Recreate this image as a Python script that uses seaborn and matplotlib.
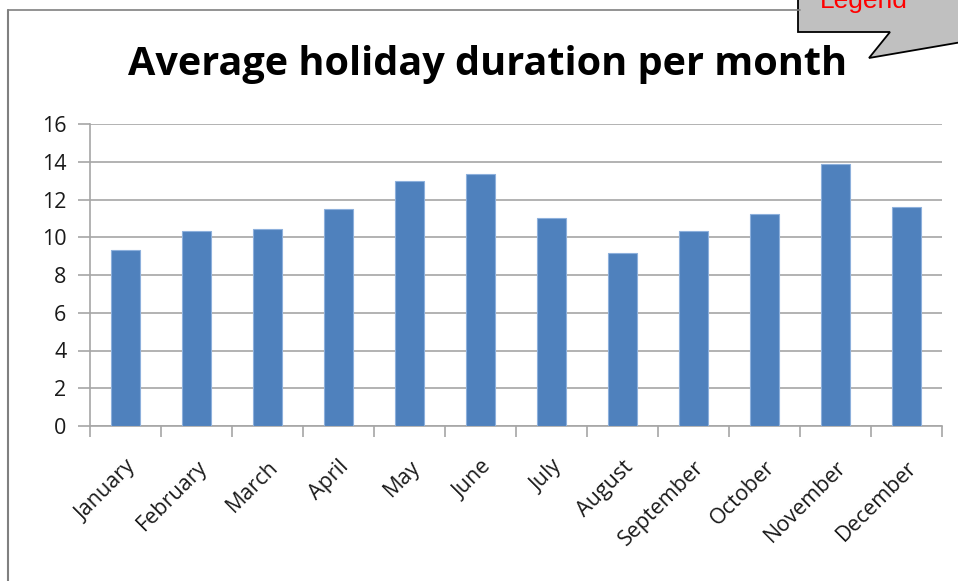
import matplotlib
matplotlib.use("Agg")
import matplotlib.pyplot as plt
import seaborn as sns
import pandas as pd
from matplotlib.patches import Polygon
from matplotlib.lines import Line2D

months = ["January", "February", "March", "April", "May", "June",
          "July", "August", "September", "October", "November", "December"]
durations = [9.3, 10.35, 10.45, 11.5, 13.0, 13.35, 11.02, 9.17, 10.35, 11.23, 13.88, 11.62]
y_ticks = [0, 2, 4, 6, 8, 10, 12, 14, 16]

df = pd.DataFrame({"month": months, "duration": durations})

sns.set_style("white")
plt.rcParams["font.family"] = ["Open Sans", "DejaVu Sans"]

W, H = 958, 581
fig = plt.figure(figsize=(W / 100, H / 100), dpi=100)
ax = fig.add_axes([90 / W, 1 - 426 / H, 852 / W, 302 / H])

sns.barplot(data=df, x="month", y="duration", color="#4F81BD", width=0.4,
            edgecolor="#8db0dc", linewidth=0.8, saturation=1, ax=ax, zorder=3)

ax.set_ylim(0, 16)
ax.set_xlim(-0.5, len(months) - 0.5)
ax.set_yticks(y_ticks)
ax.set_yticklabels([str(t) for t in y_ticks], fontsize=15.5, color="#1a1a1a")
ax.yaxis.grid(True, color="#a6a6a6", linewidth=1.2, zorder=0)
ax.set_axisbelow(True)
ax.tick_params(axis="y", length=9, width=1.2, color="#a6a6a6", pad=8, left=True)

ax.set_xticks(range(len(months)))
ax.set_xticklabels(months, rotation=45, ha="right", rotation_mode="anchor",
                   fontsize=15.5, color="#1a1a1a")
ax.set_xticks([i - 0.5 for i in range(len(months) + 1)], minor=True)
ax.tick_params(axis="x", which="major", length=0, pad=22)
ax.tick_params(axis="x", which="minor", length=8, width=1.2, color="#a6a6a6", bottom=True)
ax.set_xlabel("")
ax.set_ylabel("")

for side in ["top", "right"]:
    ax.spines[side].set_visible(False)
for side in ["left", "bottom"]:
    ax.spines[side].set_color("#a6a6a6")
    ax.spines[side].set_linewidth(1.2)

fig.text(488 / W, 1 - 64 / H, "Average holiday duration per month",
         ha="center", va="center", fontsize=28.5, fontweight="bold", color="black")

# chart frame
fig.add_artist(Line2D([8 / W, 8 / W], [0, 1 - 10 / H], color="#808080", linewidth=1.5,
                      transform=fig.transFigure))
fig.add_artist(Line2D([8 / W, 800 / W], [1 - 10 / H, 1 - 10 / H], color="#808080",
                      linewidth=1.2, transform=fig.transFigure))

# callout
pts = [(798, -5), (798, 32), (890, 32), (869, 58), (962, 42), (962, -5)]
callout = Polygon([(x / W, 1 - y / H) for x, y in pts], closed=True,
                  facecolor="#c0c0c0", edgecolor="black", linewidth=1.3,
                  transform=fig.transFigure)
fig.add_artist(callout)
fig.text(864 / W, 1 - 8 / H, "Legend", ha="center", va="baseline", fontsize=19,
         color="red", family=["Liberation Sans", "DejaVu Sans"])

fig.savefig("out.png", dpi=100, facecolor="white")
